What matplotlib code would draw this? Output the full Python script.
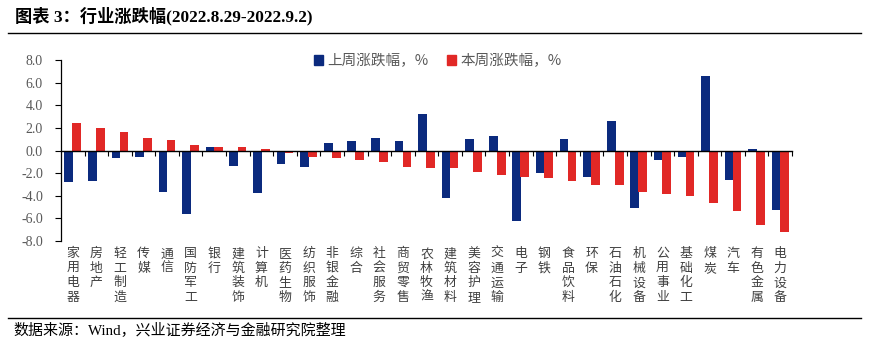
import matplotlib

matplotlib.use("Agg")
import matplotlib.pyplot as plt
import matplotlib.transforms as mtransforms
from matplotlib.lines import Line2D
from matplotlib.patches import Patch
import numpy as np

plt.rcParams["font.family"] = ["Noto Sans CJK SC", "DejaVu Sans"]

industries = [
    "家用电器", "房地产", "轻工制造", "传媒", "通信", "国防军工", "银行", "建筑装饰",
    "计算机", "医药生物", "纺织服饰", "非银金融", "综合", "社会服务", "商贸零售",
    "农林牧渔", "建筑材料", "美容护理", "交通运输", "电子", "钢铁", "食品饮料",
    "环保", "石油石化", "机械设备", "公用事业", "基础化工", "煤炭", "汽车",
    "有色金属", "电力设备",
]
last_week = [
    -2.8, -2.7, -0.7, -0.6, -3.7, -5.6, 0.3, -1.4,
    -3.8, -1.2, -1.5, 0.7, 0.8, 1.15, 0.8,
    3.2, -4.2, 1.05, 1.25, -6.2, -2.0, 1.05,
    -2.3, 2.65, -5.1, -0.85, -0.6, 6.6, -2.6,
    0.1, -5.3,
]
this_week = [
    2.4, 1.95, 1.6, 1.15, 0.9, 0.45, 0.35, 0.27,
    0.1, -0.25, -0.6, -0.68, -0.86, -1.05, -1.45,
    -1.55, -1.55, -1.9, -2.2, -2.35, -2.45, -2.7,
    -3.05, -3.05, -3.7, -3.85, -4.05, -4.65, -5.35,
    -6.6, -7.2,
]
yticks = [-8, -6, -4, -2, 0, 2, 4, 6, 8]

BLUE = "#0b2a7e"
RED = "#e12826"
GRAY = "#595959"

fig = plt.figure(figsize=(8.69, 3.47), dpi=100)
fig.patch.set_facecolor("white")
ax = fig.add_axes([0.0702, 0.3055, 0.8412, 0.5215])

x = np.arange(len(industries))
w = 0.37
ax.bar(x - 0.17, last_week, width=w, color=BLUE, zorder=2)
ax.bar(x + 0.17, this_week, width=w, color=RED, zorder=3)

ax.set_xlim(-0.5, len(industries) - 0.5)
ax.set_ylim(-8, 8)
ax.set_yticks(yticks)
ax.set_yticklabels([f"{v:.1f}" for v in yticks], family=["Liberation Serif"], fontsize=10, color=GRAY)
ax.tick_params(axis="y", direction="out", length=4, width=0.8, color="black", pad=9)

ax.spines["top"].set_visible(False)
ax.spines["right"].set_visible(False)
ax.spines["left"].set_linewidth(0.9)
ax.spines["bottom"].set_position(("data", 0))
ax.spines["bottom"].set_linewidth(1.0)
ax.spines["bottom"].set_zorder(4)
ax.set_xticks(np.arange(len(industries)) + 0.5)
ax.set_xticklabels([])
ax.tick_params(axis="x", direction="out", length=3.6, width=0.8, color="black")

trans = mtransforms.blended_transform_factory(ax.transData, ax.transAxes)
for i, name in enumerate(industries):
    ax.text(i, -0.035, "\n".join(name), transform=trans, ha="center", va="top",
            fontsize=9.3, color="#404040", linespacing=1.15)

handles = [Patch(facecolor=BLUE, edgecolor=BLUE), Patch(facecolor=RED, edgecolor=RED)]
fig.legend(handles, ["上周涨跌幅，%", "本周涨跌幅，%"], loc="center", bbox_to_anchor=(0.504, 0.824),
           ncol=2, frameon=False, fontsize=10.5, labelcolor=GRAY, handlelength=0.6, handleheight=0.6,
           handletextpad=0.3, columnspacing=1.3)

fig.text(0.017, 0.955, "图表 3：行业涨跌幅(2022.8.29-2022.9.2)", fontsize=12.4, fontweight="bold",
         family=["Liberation Serif", "Noto Sans CJK SC"], ha="left", va="center", color="black")
fig.add_artist(Line2D([0.009, 0.991], [0.906, 0.906], transform=fig.transFigure, color="black", linewidth=1.0))
fig.add_artist(Line2D([0.009, 0.991], [0.0835, 0.0835], transform=fig.transFigure, color="black", linewidth=1.0))
fig.text(0.016, 0.049, "数据来源：Wind，兴业证券经济与金融研究院整理", fontsize=10.8,
         family=["Liberation Serif", "Noto Sans CJK SC"], ha="left", va="center", color="black")

fig.savefig("out.png", dpi=100)
plt.close(fig)
